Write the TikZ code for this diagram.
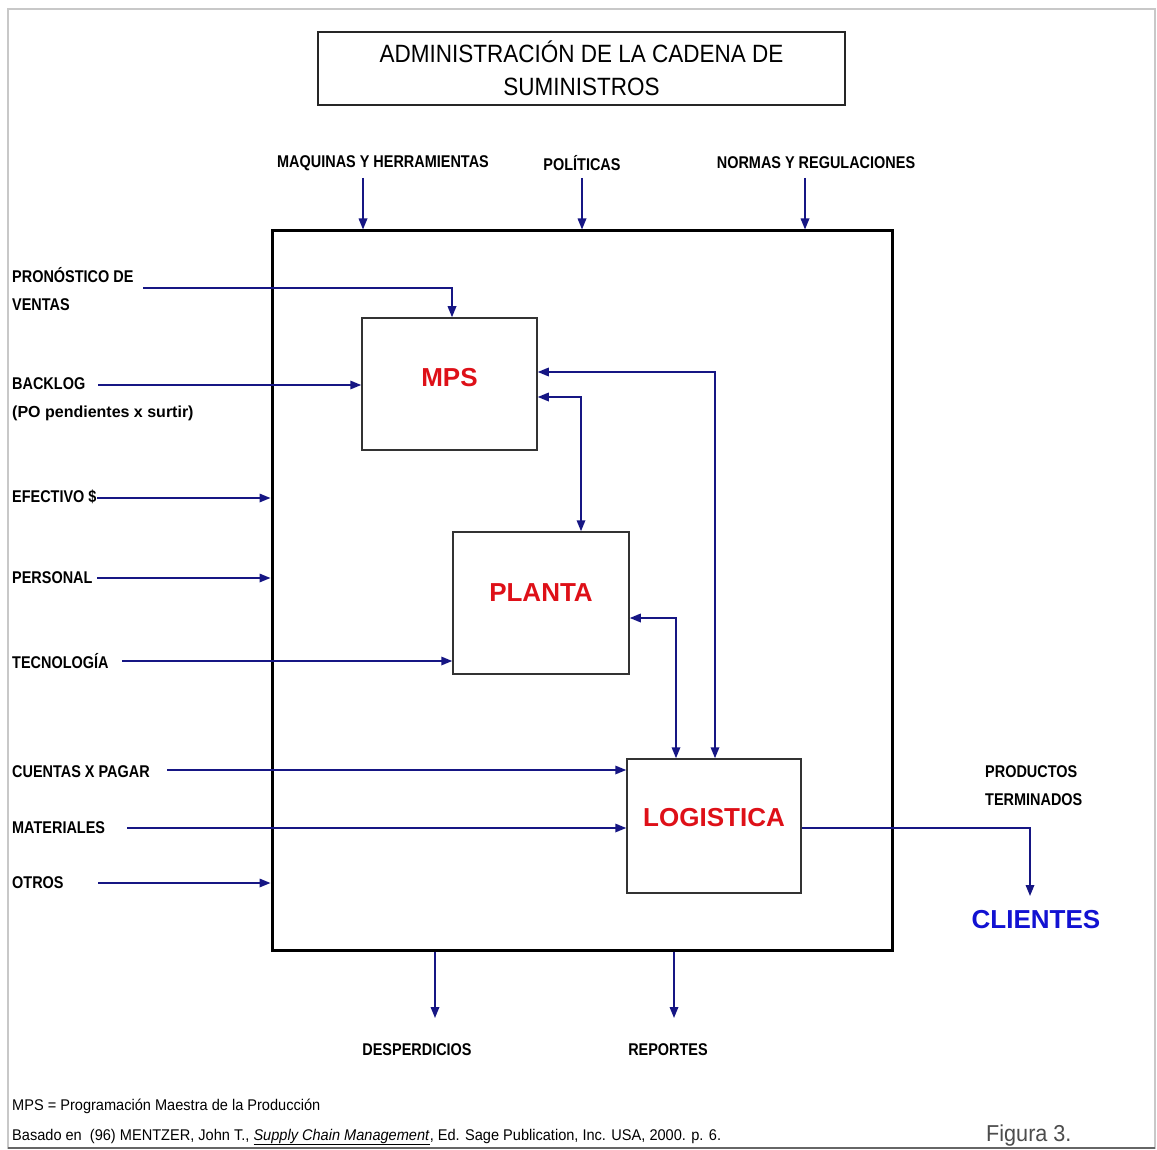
\documentclass[tikz,border=0pt]{standalone}
\usepackage{fontspec}
\setmainfont{Liberation Sans}
\newfontfamily\narrowfont[FakeStretch=0.85]{Liberation Sans}
\newfontfamily\titlefont[FakeStretch=0.9]{Liberation Sans}
\newfontfamily\notefont[FakeStretch=0.94]{Liberation Sans}
\usetikzlibrary{arrows.meta}

\definecolor{flownavy}{RGB}{22,22,132}
\definecolor{boxred}{RGB}{222,16,24}
\definecolor{cliblue}{RGB}{18,18,210}
\definecolor{framegray}{RGB}{200,200,200}

\tikzset{
  tip/.tip={Triangle[length=11pt,width=8.5pt]},
  flow/.style={draw=flownavy, line width=1.7pt, -tip},
  flowboth/.style={draw=flownavy, line width=1.7pt, tip-tip},
  lbl/.style={font={\narrowfont\bfseries\fontsize{17pt}{28pt}\selectfont}, inner sep=0, align=left},
  blockbox/.style={draw=black!80, line width=1.5pt, inner sep=0},
  blocktext/.style={font={\bfseries\fontsize{26pt}{30pt}\selectfont}, text=boxred, inner sep=0},
  note/.style={font={\notefont\fontsize{15.5pt}{18pt}\selectfont}, inner sep=0, anchor=west}
}

\begin{document}
\begin{tikzpicture}[x=1pt,y=-1pt]
\useasboundingbox (0,0) rectangle (1157,1150);
\fill[white] (0,0) rectangle (1157,1150);

% page frame
\draw[framegray, line width=1.5pt] (8,9) rectangle (1155,1148);
\draw[black!60, line width=1.5pt] (8,1148) -- (1155,1148);

% title
\node[draw=black!85, line width=1.5pt, minimum width=527pt, minimum height=73pt, inner sep=0,
      align=center, font={\titlefont\fontsize{25pt}{33pt}\selectfont}]
  (title) at (581.5,68.5) {ADMINISTRACIÓN DE LA CADENA DE\\SUMINISTROS};

% main system boundary
\node[draw=black, line width=3pt, minimum width=620pt, minimum height=719pt, inner sep=0]
  (sys) at (582,590.5) {};

% inner blocks
\node[blockbox, minimum width=175pt, minimum height=132pt] (mps) at (449.5,384) {};
\node[blockbox, minimum width=176pt, minimum height=142pt] (planta) at (541,603) {};
\node[blockbox, minimum width=174pt, minimum height=134pt] (log) at (714,826) {};
\node[blocktext] (mpst) at ([yshift=6]mps.center) {MPS};
\node[blocktext] (plantat) at ([yshift=10]planta.center) {PLANTA};
\node[blocktext] (logt) at ([yshift=8]log.center) {LOGISTICA};

% controls from above
\node[lbl] (maq) at (383,163) {MAQUINAS Y HERRAMIENTAS};
\node[lbl] (pol) at (582,163) {POLÍTICAS};
\node[lbl] (nor) at (816,163) {NORMAS Y REGULACIONES};
\coordinate (cMaq) at (363,178);
\coordinate (cPol) at (582,178);
\coordinate (cNor) at (805,178);
\draw[flow] (cMaq) -- (cMaq |- sys.north);
\draw[flow] (cPol) -- (cPol |- sys.north);
\draw[flow] (cNor) -- (cNor |- sys.north);

% inputs from the left
\node[lbl, anchor=west] (pro) at (12,289) {PRONÓSTICO DE\\VENTAS};
\node[lbl, anchor=west] (back) at (12,399) {BACKLOG\\{\normalfont\bfseries\fontsize{16pt}{28pt}\selectfont (PO pendientes x surtir)}};
\node[lbl, anchor=west] (efe) at (12,497) {EFECTIVO \$};
\node[lbl, anchor=west] (per) at (12,578) {PERSONAL};
\node[lbl, anchor=west] (tec) at (12,661) {TECNOLOGÍA};
\node[lbl, anchor=west] (cue) at (12,772) {CUENTAS X PAGAR};
\node[lbl, anchor=west] (mat) at (12,828) {MATERIALES};
\node[lbl, anchor=west] (otr) at (12,883) {OTROS};

\coordinate (cPro) at (143,288);
\coordinate (cBack) at (98,385);
\coordinate (cEfe) at (97,498);
\coordinate (cPer) at (97,578);
\coordinate (cTec) at (122,661);
\coordinate (cCue) at (167,770);
\coordinate (cMat) at (127,828);
\coordinate (cOtr) at (98,883);

\draw[flow] (cPro) -| ([xshift=2.5]mps.north);
\draw[flow] (cBack) -- (cBack -| mps.west);
\draw[flow] (cEfe) -- (cEfe -| sys.west);
\draw[flow] (cPer) -- (cPer -| sys.west);
\draw[flow] (cTec) -- (cTec -| planta.west);
\draw[flow] (cCue) -- (cCue -| log.west);
\draw[flow] (cMat) -- (cMat -| log.west);
\draw[flow] (cOtr) -- (cOtr -| sys.west);

% links between blocks
\draw[flowboth] ([yshift=12]mps.east) -| ([xshift=1]log.north);
\draw[flowboth] ([yshift=-13]mps.east) -| ([xshift=40]planta.north);
\draw[flowboth] ([yshift=-15]planta.east) -| ([xshift=-38]log.north);

% output to customers
\node[lbl, anchor=west] (prod) at (985,786) {PRODUCTOS\\TERMINADOS};
\node[font={\bfseries\fontsize{26pt}{30pt}\selectfont}, text=cliblue, inner sep=0, anchor=north]
  (cli) at (1036,910) {CLIENTES};
\draw[flow] ([yshift=-2]log.east) -| ([xshift=-6,yshift=14]cli.north);

% outputs below
\node[lbl] (des) at (417,1050) {DESPERDICIOS};
\node[lbl] (rep) at (668,1050) {REPORTES};
\coordinate (cDes) at (435,1018);
\coordinate (cRep) at (674,1018);
\draw[flow] (cDes |- sys.south) -- (cDes);
\draw[flow] (cRep |- sys.south) -- (cRep);

% notes
\node[note] (n1) at (12,1106) {MPS = Programación Maestra de la Producción};
\node[note] (n2) at (12,1137) {Basado en\ \ (96) MENTZER, John T., \underline{\textit{Supply Chain Management}}, Ed. Sage Publication, Inc. USA, 2000. p. 6.};
\node[font={\notefont\fontsize{23pt}{26pt}\selectfont}, text=black!70, inner sep=0, anchor=west]
  (fig) at (986,1136) {Figura 3.};
\end{tikzpicture}
\end{document}
